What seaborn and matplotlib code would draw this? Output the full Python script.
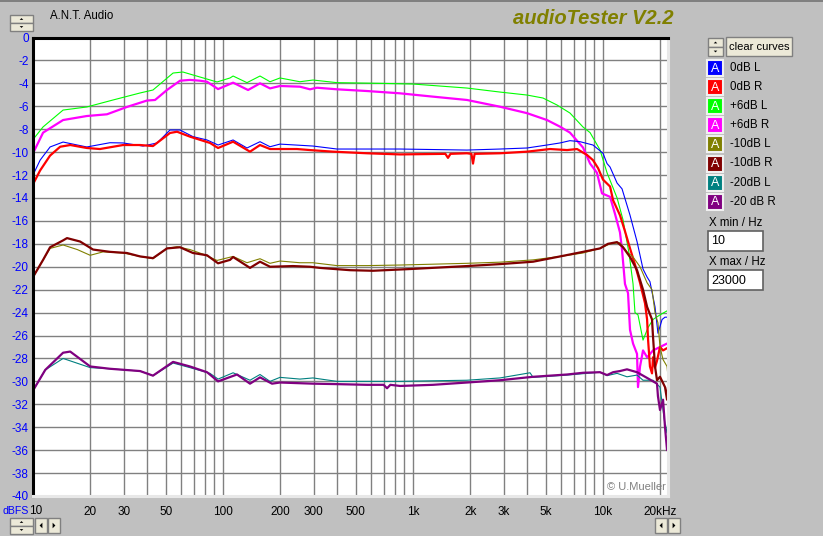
import matplotlib
matplotlib.use("Agg")
import matplotlib.pyplot as plt
import seaborn as sns
import pandas as pd
from matplotlib.patches import Rectangle, Polygon

# ---------------- data (Hz, dBFS) ----------------
series_names = ["0dB L", "0dB R", "+6dB L", "+6dB R", "-10dB L", "-10dB R", "-20dB L", "-20 dB R"]
series_colors = ["#0000ff", "#ff0000", "#00ff00", "#ff00ff", "#808000", "#800000", "#008080", "#800080"]

f_0L = [10, 10.9, 12.3, 14.4, 17.1, 19.2, 25.4, 29.8, 37.9, 45.0, 52.6, 59.4, 69.5, 82.4, 94.2, 108.9, 113,
        133.7, 156.6, 176.8, 199.5, 297.6, 398, 855, 1923, 2870, 3981, 5070, 5940, 6700, 7570, 8856, 10000,
        10500, 10890, 11860, 12590, 13870, 15100, 16240, 17060, 17660, 18780, 19460, 20460, 21200, 21980]
db_0L = [-12.0, -10.7, -9.55, -9.12, -9.38, -9.55, -9.18, -9.2, -9.47, -9.2, -8.07, -8.07, -8.65, -8.94, -9.38,
         -9.03, -8.94, -9.64, -9.09, -9.53, -9.3, -9.47, -9.73, -9.73, -9.82, -9.73, -9.64, -9.38, -9.2, -9.0,
         -9.09, -9.38, -10.1, -11.0, -11.3, -12.7, -13.2, -15.5, -17.8, -20.2, -20.9, -21.3, -23.5, -25.8,
         -24.6, -24.4, -24.4]

f_0R = [10, 10.9, 12.3, 13.9, 15.7, 19.2, 22.5, 29.8, 36.6, 42.8, 52.6, 57.3, 67.0, 85.4, 94.2, 108.9, 113,
        138.7, 156.6, 176.8, 245, 287, 379, 573, 855, 1480, 1528, 1575, 1923, 2030, 2069, 2110, 2870, 3981,
        5260, 6466, 7300, 8240, 8856, 9420, 10000, 10890, 11300, 12280, 13050, 13870, 14730, 15660, 16640,
        17060, 17270, 17660, 18110, 18330, 18780, 19240, 19950, 20700, 21730]
db_0R = [-12.8, -11.6, -10.3, -9.53, -9.38, -9.64, -9.73, -9.38, -9.38, -9.47, -8.33, -8.22, -8.65, -9.2, -9.64,
         -9.2, -9.09, -9.96, -9.38, -9.73, -9.73, -9.82, -9.96, -10.1, -10.2, -10.15, -10.5, -10.15, -10.1,
         -10.15, -11.0, -10.15, -10.1, -9.96, -9.73, -9.82, -9.73, -10.25, -10.7, -11.4, -12.4, -13.0, -14.2,
         -15.5, -16.9, -18.4, -19.8, -21.4, -23.2, -24.6, -26.4, -28.7, -29.3, -27.9, -28.8, -28.2, -27.0,
         -27.3, -27.1]

f_6L = [10, 11.3, 14.4, 19.2, 26.4, 36.6, 42.8, 54.6, 61.5, 69.5, 93, 108.9, 113, 133.7, 156.6, 176.8, 199.5,
        254, 297.6, 398, 670, 1000, 1923, 2870, 3981, 4831, 5728, 6700, 7848, 8550, 9640, 10500, 11860,
        12740, 13700, 14390, 14730, 15280, 16240, 17270, 18330, 19950, 21980]
db_6L = [-8.9, -7.8, -6.33, -6.06, -5.45, -4.84, -4.58, -3.10, -3.01, -3.27, -3.88, -3.53, -3.36, -3.94, -3.36,
         -3.86, -3.53, -3.86, -3.71, -3.94, -4.0, -4.06, -4.41, -4.76, -5.02, -5.28, -5.89, -6.59, -7.81, -8.3,
         -9.8, -11.8, -14.0, -15.9, -18.8, -21.5, -24.0, -24.2, -26.4, -25.3, -24.6, -24.2, -23.8]

f_6R = [10, 11.3, 14.4, 19.2, 24.5, 31.2, 39.8, 43.9, 50.7, 59.4, 67.0, 75.7, 82.4, 94.2, 113, 135.5, 156.6,
        176.8, 199.5, 254, 287, 312, 398, 573, 855, 1274, 1923, 2870, 3981, 5070, 5940, 6700, 7848, 8550,
        9290, 9880, 10890, 11570, 12280, 12590, 13050, 13540, 13870, 14390, 15100, 15280, 15660, 16240,
        17060, 18330, 19950, 21730]
db_6R = [-10.1, -8.3, -7.2, -6.85, -6.7, -6.06, -5.5, -5.45, -4.58, -3.77, -3.7, -3.77, -3.86, -4.5, -3.94,
         -4.58, -4.0, -4.44, -4.23, -4.29, -4.52, -4.38, -4.52, -4.67, -4.87, -5.16, -5.45, -6.04, -6.6, -7.2,
         -7.78, -8.3, -9.6, -11.0, -11.8, -13.6, -13.9, -15.4, -17.0, -18.5, -21.5, -22.3, -25.5, -26.7,
         -27.6, -30.5, -28.7, -27.3, -27.9, -27.3, -27.0, -26.7]

f_10L = [10, 11.3, 12.3, 14.4, 17.1, 20.0, 23.4, 29.8, 36.6, 42.8, 50.7, 57.3, 67.0, 78.5, 93, 113, 133.7,
         156.6, 176.8, 199.5, 254, 297.6, 398, 573, 855, 1923, 2870, 4285, 5940, 7848, 9640, 10890, 12280,
         13370, 14390, 15660, 17060, 18110, 18780, 19460, 19950, 20700, 21730, 21980]
db_10L = [-20.9, -19.4, -18.4, -18.1, -18.5, -19.0, -18.7, -18.8, -19.1, -19.3, -18.4, -18.25, -18.5, -18.9,
          -19.45, -19.1, -19.65, -19.3, -19.7, -19.5, -19.65, -19.65, -19.9, -19.9, -19.85, -19.7, -19.6,
          -19.4, -19.1, -18.8, -18.4, -18.0, -17.9, -18.7, -19.15, -20.0, -21.4, -22.0, -24.0, -24.9, -27.0,
          -28.1, -28.7, -29.6]

f_10R = [10, 11.3, 12.3, 14.4, 15.1, 17.7, 20.7, 25.4, 31.2, 36.6, 42.8, 50.7, 59.4, 69.5, 82.4, 94.2, 108.9,
         113, 138.7, 156.6, 176.8, 233.5, 287, 324, 466, 615, 964, 1923, 2870, 4285, 5940, 7848, 9640, 10620,
         11860, 12740, 13870, 15100, 16240, 17060, 18110, 18330, 18780, 19240, 19950, 21200, 21730, 21980]
db_10R = [-20.9, -19.4, -18.3, -17.7, -17.5, -17.8, -18.5, -18.7, -18.8, -19.1, -19.25, -18.4, -18.3, -18.8,
          -19.0, -19.7, -19.4, -19.15, -20.1, -19.56, -20.0, -19.94, -20.0, -20.1, -20.3, -20.35, -20.2,
          -19.94, -19.77, -19.56, -19.1, -18.7, -18.4, -18.0, -17.85, -18.3, -19.15, -20.3, -22.0, -23.5,
          -24.6, -26.1, -28.7, -29.9, -29.6, -30.5, -31.6, -30.5]

f_20L = [10, 11.6, 14.4, 20.0, 25.4, 36.6, 42.8, 54.6, 67.0, 85.4, 94.2, 113, 138.7, 156.6, 176.8, 199.5, 254,
         297.6, 398, 573, 855, 1274, 1923, 2870, 4130, 4285, 6466, 9640, 10500, 11860, 13370, 15100, 16240,
         18330, 19950, 20700, 21480, 21980]
db_20L = [-30.8, -29.0, -28.0, -28.8, -28.9, -29.1, -29.5, -28.4, -28.8, -29.3, -29.8, -29.25, -29.9, -29.4,
          -30.0, -29.65, -29.8, -29.7, -30.0, -30.0, -30.0, -29.95, -29.9, -29.7, -29.25, -29.65, -29.45,
          -29.2, -29.5, -29.3, -29.6, -29.45, -29.9, -29.9, -30.5, -32.5, -34.5, -33.5]

f_20R = [10, 11.6, 14.4, 15.7, 20.0, 25.4, 36.6, 42.8, 54.6, 67.0, 82.4, 94.2, 118.5, 138.7, 156.6, 181.1,
         199.5, 297.6, 398, 573, 700, 730, 760, 855, 1274, 1923, 2870, 4285, 6466, 7848, 9640, 10500, 11300,
         12280, 13370, 15100, 17060, 19240, 19460, 19950, 20700, 21200, 21730]
db_20R = [-30.8, -29.0, -27.5, -27.4, -28.7, -28.9, -29.1, -29.5, -28.3, -28.7, -29.2, -30.0, -29.4, -30.2,
          -29.65, -30.2, -30.1, -30.2, -30.24, -30.3, -30.3, -30.6, -30.3, -30.4, -30.3, -30.1, -29.9, -29.6,
          -29.4, -29.25, -29.2, -29.45, -29.2, -29.1, -28.95, -29.2, -29.7, -30.2, -31.3, -32.5, -31.6,
          -34.0, -36.0]

x_major = [10, 20, 30, 50, 100, 200, 300, 500, 1000, 2000, 3000, 5000, 10000, 20000]
x_major_labels = ["", "20", "30", "50", "100", "200", "300", "500", "1k", "2k", "3k", "5k", "10k", "20kHz"]
x_first_label = "10"
x_minor = [40, 60, 70, 80, 90, 400, 600, 700, 800, 900, 4000, 6000, 7000, 8000, 9000]
y_ticks = list(range(-40, 1, 2))

# ---------------- figure ----------------
W, H = 823, 536
BG = "#c0c0c0"
sns.set_style("white")
plt.rcParams["font.family"] = ["Liberation Sans", "DejaVu Sans"]

fig = plt.figure(figsize=(W / 100, H / 100), dpi=100, facecolor=BG)

L, R, T, B = 33, 668, 37.5, 496
ax = fig.add_axes([L / W, 1 - B / H, (R - L) / W, (B - T) / H])
ax.set_facecolor("white")
ax.set_xscale("log")
ax.set_xlim(10, 21980)
ax.set_ylim(-40, 0)

ax.set_xticks(x_major)
ax.set_xticklabels(x_major_labels)
ax.set_xticks(x_minor, minor=True)
ax.set_xticklabels([], minor=True)
ax.set_yticks(y_ticks)
ax.set_yticklabels([str(v) for v in y_ticks])
ax.grid(True, which="both", color="#808080", linewidth=1.0)
ax.set_axisbelow(True)
ax.tick_params(axis="both", which="both", length=0)
ax.tick_params(axis="x", labelsize=8.5, pad=7, colors="black")
ax.tick_params(axis="y", labelsize=8.5, pad=3, labelcolor="#0000ff")

for s in ["left", "top"]:
    ax.spines[s].set_color("black")
    ax.spines[s].set_linewidth(2.2)
for s in ["right", "bottom"]:
    ax.spines[s].set_color("#e8e8e8")
    ax.spines[s].set_linewidth(2.2)

curves = [
    (f_6L, db_6L, 2, 0.8),
    (f_6R, db_6R, 3, 1.6),
    (f_0L, db_0L, 0, 0.8),
    (f_0R, db_0R, 1, 1.6),
    (f_10L, db_10L, 4, 0.8),
    (f_10R, db_10R, 5, 1.6),
    (f_20L, db_20L, 6, 0.8),
    (f_20R, db_20R, 7, 1.6),
]
for fx, dy, idx, lw in curves:
    df = pd.DataFrame({"Hz": fx, "dBFS": dy})
    sns.lineplot(data=df, x="Hz", y="dBFS", ax=ax, color=series_colors[idx],
                 linewidth=lw, estimator=None, sort=False)
ax.set_xlabel("")
ax.set_ylabel("")
ax.text(0.996, 0.008, "\u00a9 U.Mueller", transform=ax.transAxes, ha="right", va="bottom",
        fontsize=8, color="#808080")


# ---------------- window decorations ----------------
def rect(x, y, w, h, fc, ec="#808080", lw=1.0, z=1):
    fig.patches.append(Rectangle((x / W, 1 - (y + h) / H), w / W, h / H, transform=fig.transFigure,
                                 facecolor=fc, edgecolor=ec, linewidth=lw, zorder=z))


def tri(cx, cy, d, s=2.5):
    if d == "up":
        pts = [(cx - s, cy + s / 2), (cx + s, cy + s / 2), (cx, cy - s / 2)]
    elif d == "down":
        pts = [(cx - s, cy - s / 2), (cx + s, cy - s / 2), (cx, cy + s / 2)]
    elif d == "left":
        pts = [(cx + s / 2, cy - s), (cx + s / 2, cy + s), (cx - s / 2, cy)]
    else:
        pts = [(cx - s / 2, cy - s), (cx - s / 2, cy + s), (cx + s / 2, cy)]
    fig.patches.append(Polygon([(px / W, 1 - py / H) for px, py in pts], closed=True,
                               transform=fig.transFigure, facecolor="black", edgecolor="none", zorder=3))


def spinner(x, y, w, h):
    rect(x, y, w, h, "#ece9d8", "#808080")
    rect(x, y + h, w, h, "#ece9d8", "#808080")
    tri(x + w / 2, y + h / 2, "up", 1.8)
    tri(x + w / 2, y + 1.5 * h, "down", 1.8)


def arrow_btn(x, y, w, h, d):
    rect(x, y, w, h, "#ece9d8", "#808080")
    tri(x + w / 2, y + h / 2, d, 2.8)


def txt(x, y, s, **kw):
    fig.text(x / W, 1 - y / H, s, **kw)


# top line
rect(0, 0, W, 2, "#808080", "none", 0)

txt(50, 16, "A.N.T. Audio", fontsize=8.3, va="center", ha="left", color="black")
txt(513, 18, "audioTester V2.2", fontsize=14.5, fontweight="bold", fontstyle="italic",
    color="#808000", va="center", ha="left")

spinner(10, 15, 23, 8)
spinner(708, 38, 15, 9)
rect(726, 37, 66, 19, "#ece9d8", "#808080")
txt(759, 47, "clear curves", fontsize=8, ha="center", va="center", color="black")

for i, (name, col) in enumerate(zip(series_names, series_colors)):
    cy = 68 + i * 19.1
    rect(707, cy - 8, 16, 16, col, "#f0f0f0", 1.5)
    txt(715, cy + 0.5, "A", fontsize=9, color="white", ha="center", va="center")
    txt(730, cy, name, fontsize=8.3, color="black", ha="left", va="center")

txt(709, 223, "X min / Hz", fontsize=8.3, ha="left", va="center", color="black")
rect(708, 231, 55, 20, "white", "#606060", 1.2)
txt(711, 241, "10", fontsize=9, ha="left", va="center", color="black")
txt(709, 262, "X max / Hz", fontsize=8.3, ha="left", va="center", color="black")
rect(708, 270, 55, 20, "white", "#606060", 1.2)
txt(711, 280.5, "23000", fontsize=9, ha="left", va="center", color="black")

# "dBFS" unit and first x label "10" side by side, sharing one baseline
txt(28.5, 514.5, "dBFS", fontsize=7.6, color="#0000ff", ha="right", va="baseline")
txt(29.2, 514.5, x_first_label, fontsize=8.5, color="black", ha="left", va="baseline")
spinner(10, 518, 23, 8)
arrow_btn(35, 518, 12, 15, "left")
arrow_btn(48, 518, 12, 15, "right")
arrow_btn(655, 518, 12, 15, "left")
arrow_btn(668, 518, 12, 15, "right")

fig.savefig("out.png", dpi=100, facecolor=BG)
